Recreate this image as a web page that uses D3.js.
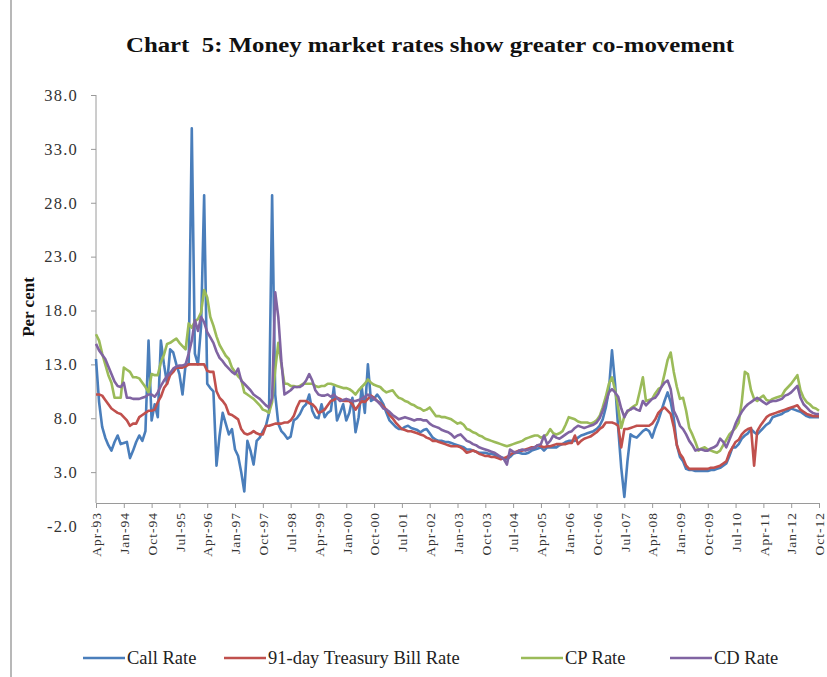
<html>
<head>
<meta charset="utf-8">
<script src="https://cdn.jsdelivr.net/npm/d3@7"></script>
<style>
    body { margin: 0; background: #fff; }
    text { font-family: "Liberation Serif", "Times New Roman", serif; fill: #222; }
    .axis path, .axis line { stroke: #9a9a9a; stroke-width: 1px; }
    .axis text { font-size: 16.5px; fill: #333; letter-spacing: 1.2px; }
    .xaxis text { font-size: 13.5px; letter-spacing: 1px; }
    path.series { fill: none; stroke-width: 2.6px; stroke-linejoin: round; }
</style>
</head>
<body>
<script>

    // monthly categories Apr-93 .. Oct-12
    var months = d3.timeMonth.range(new Date(1993, 3, 1), new Date(2012, 10, 1));
    var fmt = d3.timeFormat("%b-%y");
    var categories = months.map(fmt);

    var xTickLabels = ["Apr-93", "Jan-94", "Oct-94", "Jul-95", "Apr-96", "Jan-97", "Oct-97", "Jul-98", "Apr-99",
        "Jan-00", "Oct-00", "Jul-01", "Apr-02", "Jan-03", "Oct-03", "Jul-04", "Apr-05", "Jan-06", "Oct-06",
        "Jul-07", "Apr-08", "Jan-09", "Oct-09", "Jul-10", "Apr-11", "Jan-12", "Oct-12"];

    var yTicks = [-2, 3, 8, 13, 18, 23, 28, 33, 38];

    var callRate = [
        13.5, 9.5, 7.2, 6.2, 5.5, 5.0, 5.8, 6.4, 5.6, 5.7, 5.8, 4.3,
        5.0, 5.8, 6.4, 5.9, 6.8, 15.2, 7.8, 9.3, 8.1, 15.2, 13.0, 11.2,
        14.4, 14.1, 13.0, 12.1, 10.2, 13.0, 13.0, 34.9, 14.0, 13.0, 16.5, 28.7,
        11.2, 10.8, 10.5, 3.6, 6.4, 8.5, 7.5, 6.5, 7.0, 5.1, 4.5, 3.0,
        1.2, 5.9, 5.0, 3.7, 5.9, 6.2, 6.8, 7.3, 8.5, 28.7, 10.2, 7.5,
        6.8, 6.5, 6.1, 6.3, 7.8, 8.0, 8.4, 9.0, 9.3, 10.2, 8.7, 8.1,
        8.0, 9.3, 8.1, 8.5, 8.7, 10.9, 7.8, 8.5, 9.3, 7.8, 8.5, 9.9,
        6.7, 8.1, 10.9, 8.5, 13.0, 9.6, 9.8, 10.2, 9.8, 9.3, 8.5, 7.8,
        7.5, 7.2, 7.0, 7.0, 7.2, 7.3, 7.1, 7.0, 6.9, 6.7, 6.9, 7.0,
        6.6, 6.2, 6.0, 5.9, 5.9, 5.8, 5.8, 5.7, 5.6, 5.5, 5.4, 5.3,
        5.1, 5.1, 5.0, 4.9, 4.8, 4.8, 4.8, 4.7, 4.7, 4.6, 4.5, 4.4,
        4.3, 4.2, 4.4, 4.7, 4.8, 4.8, 4.7, 4.7, 4.8, 5.0, 5.1, 5.2,
        5.3, 5.0, 5.3, 5.3, 5.3, 5.3, 5.5, 5.6, 5.8, 5.9, 5.9, 5.9,
        6.2, 6.4, 6.5, 6.6, 6.7, 6.8, 7.0, 7.3, 7.9, 9.0, 10.6, 14.3,
        11.2, 7.1, 3.4, 0.7, 4.0, 6.5, 6.3, 6.2, 6.5, 6.8, 7.0, 6.8,
        6.2, 7.1, 7.8, 8.7, 9.6, 10.4, 9.5, 8.0, 5.5, 4.4, 4.0, 3.3,
        3.2, 3.2, 3.1, 3.1, 3.1, 3.1, 3.1, 3.2, 3.2, 3.3, 3.4, 3.6,
        3.8, 4.5, 5.3, 5.3, 5.6, 6.1, 6.4, 6.6, 7.0, 6.7, 6.5, 6.8,
        7.1, 7.4, 7.6, 8.1, 8.2, 8.3, 8.4, 8.6, 8.7, 8.9, 8.8, 8.7,
        8.6, 8.4, 8.2, 8.1, 8.1, 8.1, 8.1
    ];

    var tbillRate = [
        10.2, 10.2, 10.1, 9.7, 9.3, 8.9, 8.7, 8.5, 8.4, 8.1, 7.8, 7.3,
        7.5, 7.5, 8.1, 8.3, 8.5, 8.7, 8.7, 8.8, 9.5, 10.0, 10.8, 11.2,
        12.0, 12.3, 12.7, 12.7, 12.7, 12.8, 13.0, 13.0, 13.0, 13.0, 13.0, 13.0,
        12.4, 12.3, 12.3, 10.5, 9.9, 9.6, 9.2, 8.4, 8.3, 8.1, 7.9, 7.0,
        6.6, 6.5, 6.6, 6.8, 6.6, 6.5, 6.5, 7.3, 7.3, 7.4, 7.5, 7.5,
        7.5, 7.6, 7.6, 7.8, 8.2, 9.0, 9.6, 9.6, 9.6, 9.4, 9.3, 9.0,
        8.5, 8.6, 8.8, 9.2, 9.6, 9.7, 9.9, 9.8, 9.6, 9.6, 9.6, 9.3,
        8.8, 9.2, 9.6, 9.5, 9.8, 10.1, 9.9, 9.6, 9.4, 9.1, 8.8, 8.3,
        8.0, 7.6, 7.3, 7.0, 6.9, 6.8, 6.8, 6.7, 6.6, 6.5, 6.4, 6.2,
        6.1, 5.9, 5.9, 5.8, 5.7, 5.6, 5.5, 5.4, 5.4, 5.4, 5.3, 5.1,
        4.8, 4.9, 5.0, 4.9, 4.7, 4.6, 4.5, 4.5, 4.4, 4.4, 4.3, 4.2,
        4.3, 4.4, 4.6, 4.8, 4.9, 5.0, 5.0, 5.1, 5.2, 5.3, 5.3, 5.5,
        5.4, 5.3, 5.4, 5.4, 5.5, 5.6, 5.6, 5.6, 5.6, 5.7, 5.7, 6.4,
        5.6, 5.9, 6.1, 6.2, 6.3, 6.5, 6.7, 7.0, 7.2, 7.6, 7.6, 7.6,
        7.5, 7.3, 5.3, 7.0, 7.0, 7.1, 7.2, 7.3, 7.3, 7.3, 7.3, 7.3,
        7.5, 7.9, 8.5, 8.8, 9.0, 8.7, 8.4, 7.2, 5.5, 4.7, 4.3, 3.6,
        3.3, 3.3, 3.3, 3.3, 3.3, 3.3, 3.3, 3.4, 3.4, 3.5, 3.6, 3.8,
        4.0, 4.8, 5.3, 5.8, 6.0, 6.5, 6.8, 7.0, 7.1, 3.6, 6.8, 7.3,
        7.7, 8.1, 8.3, 8.4, 8.5, 8.6, 8.7, 8.8, 8.9, 9.0, 9.1, 9.2,
        8.8, 8.6, 8.4, 8.3, 8.2, 8.2, 8.2
    ];

    var cpRate = [
        15.8, 15.2, 14.0, 13.0, 12.0, 11.3, 9.9, 9.9, 9.9, 12.7, 12.5, 12.3,
        11.8, 11.8, 11.7, 11.3, 10.9, 10.4, 12.1, 12.0, 12.0, 13.2, 13.9, 14.9,
        15.0, 15.2, 15.4, 15.0, 14.7, 14.4, 16.8, 16.4, 17.0, 17.2, 17.8, 19.9,
        19.2, 17.4, 16.6, 15.6, 14.8, 14.3, 13.8, 13.5, 12.7, 12.3, 11.9, 11.6,
        10.4, 10.2, 10.0, 9.8, 9.5, 9.2, 8.8, 8.7, 8.5, 9.5, 12.5, 15.0,
        13.0, 11.2, 11.2, 11.0, 11.0, 10.9, 11.0, 11.2, 11.2, 11.2, 11.2, 11.0,
        10.9, 11.0, 11.0, 11.2, 11.2, 11.1, 11.0, 10.9, 10.8, 10.8, 10.7, 10.5,
        10.2, 10.6, 10.9, 11.2, 11.6, 11.3, 11.1, 11.0, 10.9, 10.6, 10.4, 10.5,
        10.6, 10.2, 9.9, 9.8, 9.6, 9.5, 9.3, 9.2, 9.0, 8.9, 8.7, 8.8,
        9.0, 8.6, 8.2, 8.2, 8.1, 8.1, 8.0, 7.9, 7.7, 7.5, 7.6, 7.4,
        7.0, 6.9, 6.7, 6.6, 6.4, 6.3, 6.1, 6.0, 5.9, 5.8, 5.7, 5.6,
        5.5, 5.4, 5.5, 5.6, 5.7, 5.8, 5.9, 6.1, 6.2, 6.3, 6.4, 6.4,
        6.2, 6.3, 6.5, 7.0, 6.6, 6.5, 6.6, 6.8, 7.4, 8.1, 8.0, 7.9,
        7.7, 7.6, 7.6, 7.6, 7.5, 7.6, 7.8, 8.2, 9.0, 10.0, 11.2, 11.8,
        10.6, 9.0, 7.1, 8.2, 8.6, 8.9, 9.1, 9.3, 10.5, 11.8, 9.6, 9.7,
        9.8, 10.3, 10.7, 10.9, 12.1, 13.4, 14.1, 12.3, 10.9, 9.8, 9.9, 8.7,
        7.1, 6.5, 5.8, 5.0, 5.2, 5.3, 5.1, 5.0, 4.9, 4.8, 5.0, 5.5,
        6.0, 6.5, 6.8, 7.1, 7.6, 9.5, 12.3, 12.1, 10.6, 9.8, 9.6, 9.9,
        10.1, 9.7, 9.6, 9.8, 9.9, 10.0, 10.1, 10.6, 10.9, 11.2, 11.6, 12.0,
        10.6, 9.9, 9.5, 9.3, 9.0, 8.9, 8.7
    ];

    var cdRate = [
        14.9, 14.3, 13.9, 13.5, 12.8, 12.1, 11.4, 11.0, 10.9, 11.3, 9.9, 9.9,
        9.8, 9.8, 9.8, 9.9, 10.0, 10.2, 10.2, 10.0, 10.4, 11.0, 11.5, 11.9,
        12.2, 12.6, 12.8, 12.9, 12.9, 13.0, 14.0, 15.2, 17.1, 16.1, 17.4, 16.9,
        16.0, 15.5, 15.0, 14.2, 13.6, 13.3, 12.9, 12.6, 12.3, 12.1, 12.6, 11.5,
        11.2, 10.9, 10.6, 10.2, 10.0, 9.8, 9.5, 9.2, 9.0, 9.9, 19.7, 17.4,
        13.3, 10.2, 10.4, 10.6, 10.9, 10.9, 10.9, 11.1, 11.5, 12.1, 11.5, 10.6,
        10.2, 10.1, 10.1, 10.2, 10.0, 10.2, 9.9, 9.6, 9.7, 9.8, 9.7, 9.6,
        9.6, 9.7, 9.8, 10.0, 10.2, 10.0, 9.8, 9.6, 9.3, 8.9, 8.8, 8.6,
        8.3, 8.1, 7.9, 8.0, 8.1, 8.0, 7.9, 7.8, 7.9, 7.9, 7.8, 7.8,
        7.5, 7.3, 7.2, 7.1, 6.9, 6.8, 6.7, 6.5, 6.2, 6.4, 6.5, 6.2,
        5.9, 5.8, 5.6, 5.5, 5.3, 5.2, 5.1, 5.0, 4.9, 4.8, 4.6, 4.4,
        4.2, 3.7, 5.1, 4.9, 4.8, 5.0, 5.1, 5.0, 5.1, 5.2, 5.3, 5.5,
        5.6, 6.4, 5.6, 5.9, 6.4, 6.2, 6.1, 6.3, 6.5, 6.7, 6.8, 7.1,
        7.3, 7.2, 7.1, 7.2, 7.3, 7.4, 7.6, 8.0, 8.7, 9.5, 10.4, 10.7,
        10.4, 10.0, 8.9, 8.1, 8.7, 8.8, 9.0, 8.8, 8.7, 9.6, 9.2, 9.5,
        9.8, 9.9, 10.3, 10.9, 11.3, 11.5, 10.7, 8.7, 8.1, 7.3, 7.0, 6.5,
        5.9, 5.5, 5.0, 5.1, 5.1, 5.0, 5.0, 5.2, 5.3, 5.5, 6.1, 5.8,
        5.3, 6.0, 6.7, 7.5, 8.1, 8.6, 9.0, 9.3, 9.5, 9.7, 9.9, 9.7,
        9.5, 9.3, 9.5, 9.6, 9.6, 9.7, 9.8, 10.1, 10.2, 10.4, 10.7, 11.0,
        9.9, 9.3, 9.0, 8.7, 8.5, 8.4, 8.4
    ];

    var seriesNames = ["Call Rate", "91-day Treasury Bill Rate", "CP Rate", "CD Rate"];
    var seriesColors = ["#4a7ebb", "#c0504d", "#9bbb59", "#8064a2"];
    var seriesData = [callRate, tbillRate, cpRate, cdRate];

    var width = 827,
        height = 677;

    var svg = d3.select("body").append("svg")
        .attr("width", width)
        .attr("height", height);

    // left frame line of the original chart box
    svg.append("line")
        .attr("x1", 11).attr("x2", 11)
        .attr("y1", 0).attr("y2", height)
        .attr("stroke", "#b8b8b8")
        .attr("stroke-width", 2);

    var x = d3.scalePoint()
        .domain(categories)
        .range([96, 819]);

    var y = d3.scaleLinear()
        .domain([-2, 38])
        .range([526, 95]);

    var axisY = 503;

    // title
    svg.append("text")
        .attr("x", 430)
        .attr("y", 52)
        .attr("text-anchor", "middle")
        .attr("textLength", 608)
        .attr("lengthAdjust", "spacingAndGlyphs")
        .style("white-space", "pre")
        .style("font-size", "20px")
        .style("font-weight", "bold")
        .style("fill", "#111")
        .text("Chart  5: Money market rates show greater co-movement");

    // y axis
    var gy = svg.append("g")
        .attr("class", "axis")
        .attr("transform", "translate(96,0)")
        .call(d3.axisLeft(y).tickValues(yTicks).tickSize(5).tickPadding(13)
            .tickFormat(function (d) { return d.toFixed(1); }));
    gy.select(".domain").remove();
    gy.append("line")
        .attr("y1", y(38)).attr("y2", axisY)
        .attr("stroke", "#9a9a9a");

    svg.append("text")
        .attr("transform", "translate(34,307) rotate(-90)")
        .attr("text-anchor", "middle")
        .style("font-size", "17px")
        .style("font-weight", "bold")
        .style("fill", "#111")
        .text("Per cent");

    // x axis
    var gx = svg.append("g")
        .attr("class", "axis xaxis")
        .attr("transform", "translate(0," + axisY + ")")
        .call(d3.axisBottom(x).tickValues(xTickLabels).tickSize(5).tickSizeOuter(0));

    gx.selectAll("text")
        .attr("x", -9)
        .attr("y", 0)
        .attr("dy", "0.35em")
        .attr("transform", "rotate(-90)")
        .style("text-anchor", "end");

    // lines
    var line = d3.line()
        .x(function (d, i) { return x(categories[i]); })
        .y(function (d) { return y(d); });

    svg.append("g")
        .selectAll("path")
        .data(seriesData)
        .enter()
        .append("path")
        .attr("class", "series")
        .attr("stroke", function (d, i) { return seriesColors[i]; })
        .attr("d", line);

    // legend
    var legendX = [83, 224, 521, 670];
    var legend = svg.append("g")
        .selectAll("g")
        .data(seriesNames)
        .enter().append("g")
        .attr("transform", function (d, i) { return "translate(" + legendX[i] + ",658)"; });

    legend.append("line")
        .attr("x1", 0).attr("x2", 42)
        .attr("stroke", function (d, i) { return seriesColors[i]; })
        .attr("stroke-width", 2.6);

    legend.append("text")
        .attr("x", 44)
        .attr("dy", "0.35em")
        .style("font-size", "18.5px")
        .style("fill", "#222")
        .text(function (d) { return d; });

</script>
</body>
</html>
